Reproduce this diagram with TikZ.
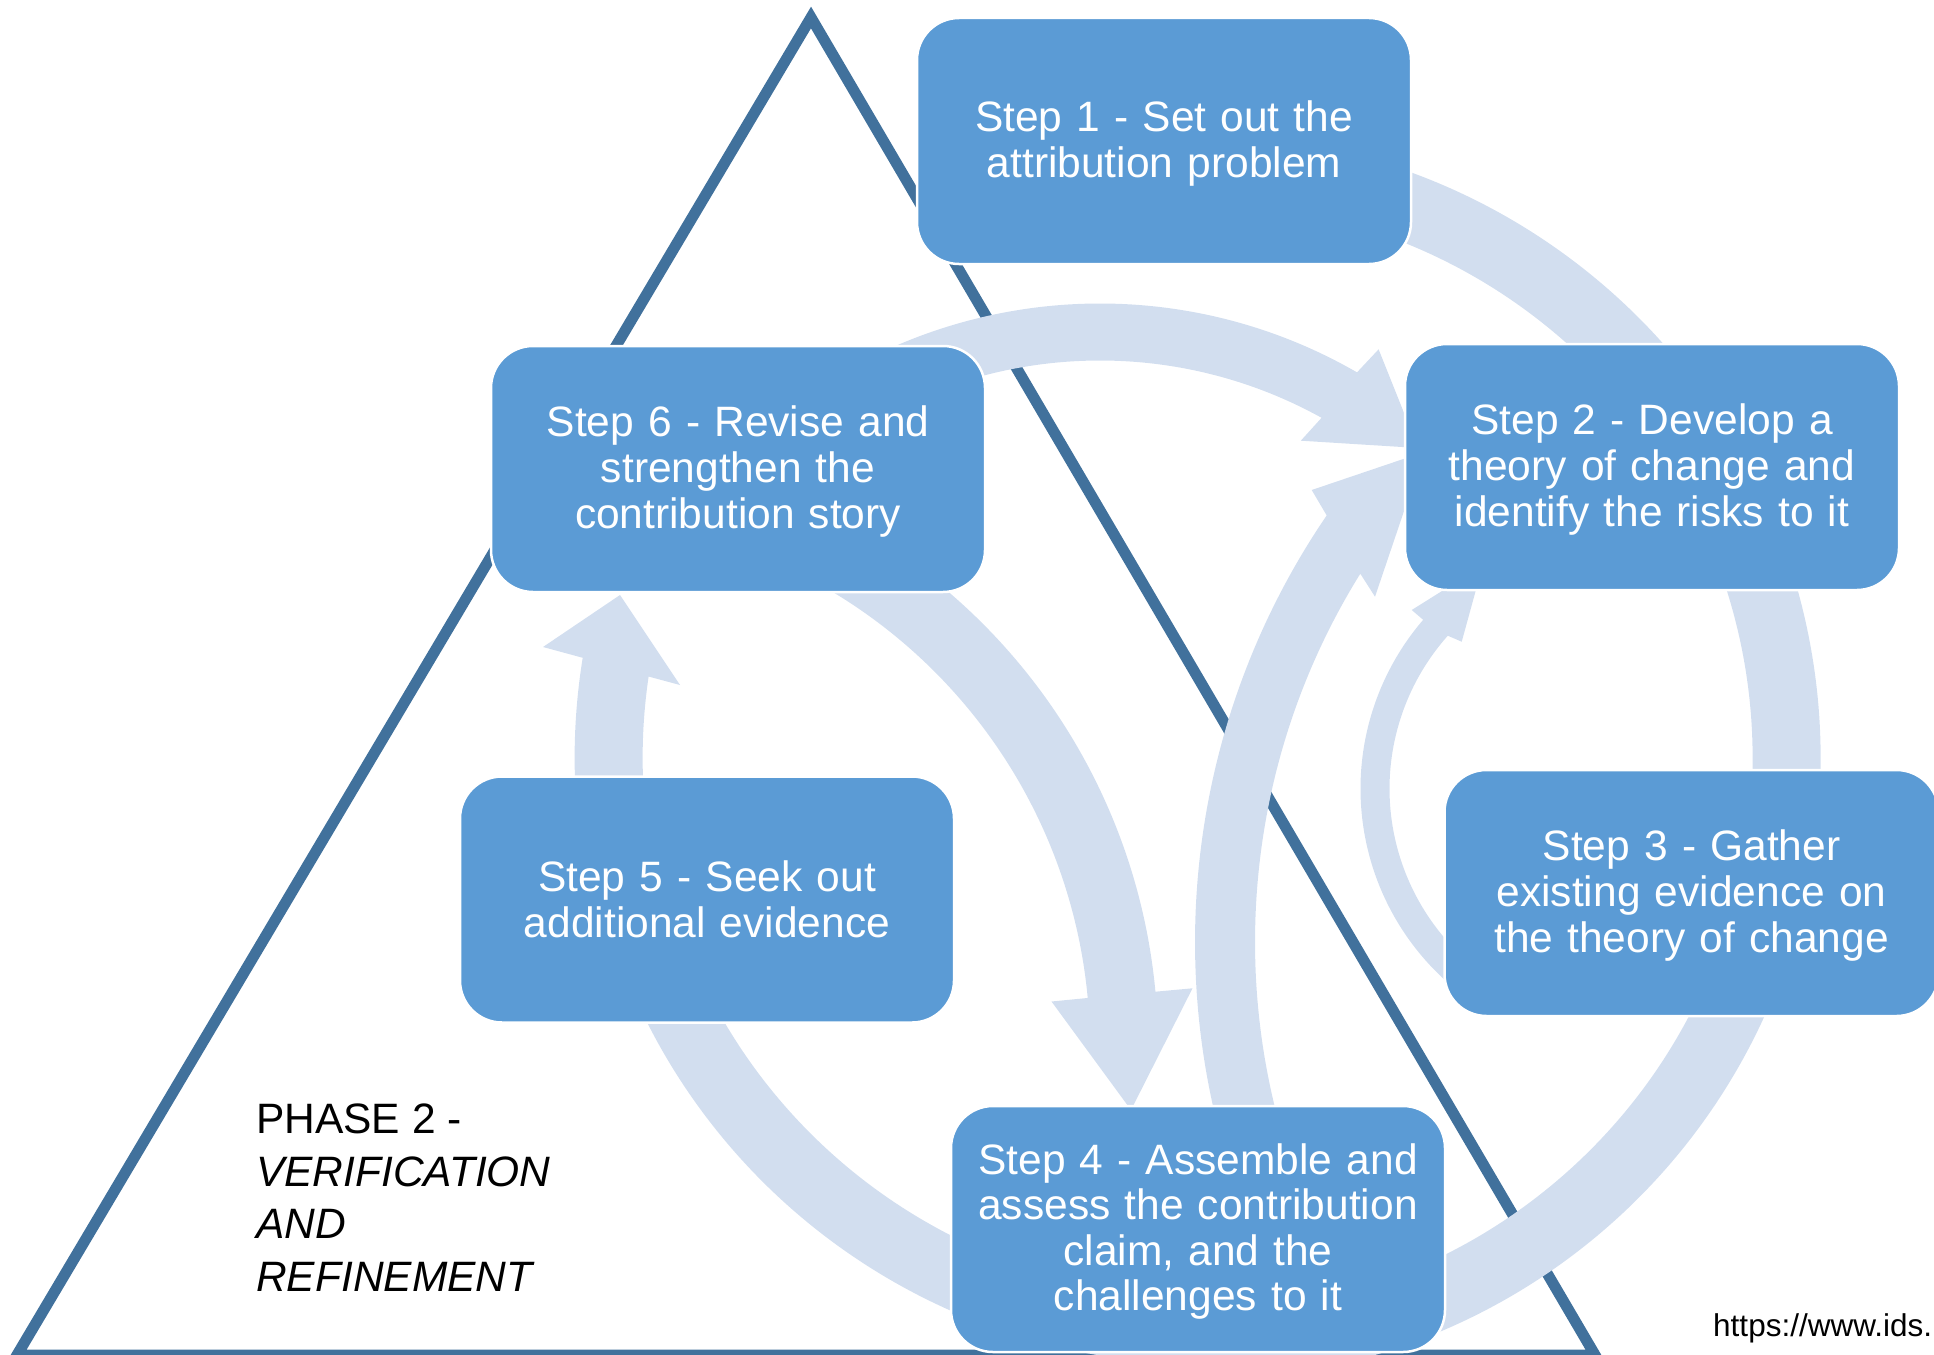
\documentclass[tikz,border=0pt]{standalone}
\usepackage{fontspec}
\setmainfont{Liberation Sans}
\usetikzlibrary{calc}
\definecolor{boxblue}{RGB}{91,155,213}
\definecolor{triblue}{RGB}{65,113,156}
\definecolor{flowblue}{RGB}{210,222,239}
\begin{document}
\begin{tikzpicture}[x=1pt,y=-1pt,
  stepbox/.style={rectangle, rounded corners=42pt, fill=boxblue, draw=white,
    line width=2.5pt, minimum width=494pt, minimum height=246pt, inner sep=0pt},
  steptext/.style={text width=480pt, inner sep=0pt, align=center, text=white,
    font=\fontsize{42.5}{45.6}\selectfont},
  flow/.style={fill=flowblue},
  frame/.style={draw=triblue, line width=11pt, line join=miter}
]
\useasboundingbox (0,0) rectangle (1934,1354);

% phase triangle
\draw[frame] (811,17.5) -- (1595,1355) -- (17,1355) -- cycle;

% centres of the curved block arrows
\coordinate (ringc) at (1197.6,757.8);
\coordinate (ringd) at (1203,741);
\coordinate (c62) at (1100,817.5);
\coordinate (c64) at (559,1047);
\coordinate (c42) at (1952,942);
\coordinate (c32) at (1619.5,788.7);

% main cycle 1 -> 2 -> 3 -> 4
\fill[flow] ($(ringc)+(-100:623)$) arc[start angle=-100,end angle=95,radius=623]
  -- ($(ringc)+(95:555)$) arc[start angle=95,end angle=-100,radius=555] -- cycle;
% 4 -> 5
\fill[flow] ($(ringd)+(85:623)$) arc[start angle=85,end angle=165,radius=623]
  -- ($(ringd)+(165:555)$) arc[start angle=165,end angle=85,radius=555] -- cycle;
% 5 -> 6
\fill[flow] ($(ringc)+(160:623)$) arc[start angle=160,end angle=189.24,radius=623]
  -- (543,647) -- (620,595) -- (680,685)
  -- ($(ringc)+(188.42:555)$) arc[start angle=188.42,end angle=160,radius=555] -- cycle;

% 6 -> 2
\fill[flow] ($(c62)+(-118:514)$) arc[start angle=-118,end angle=-60,radius=514]
  -- (1378.6,349.3) -- (1418,448) -- (1300.8,440.7)
  -- ($(c62)+(-61:457)$) arc[start angle=-61,end angle=-118,radius=457] -- cycle;

% 6 -> 4
\fill[flow] ($(c64)+(-62:599)$) arc[start angle=-62,end angle=-5.3,radius=599]
  -- (1192.5,988.3) -- (1131,1110) -- (1051.5,1001.5)
  -- ($(c64)+(-5.3:531)$) arc[start angle=-5.3,end angle=-62,radius=531] -- cycle;

% 4 -> 2
\fill[flow] ($(c42)+(160:757)$) arc[start angle=160,end angle=214.3,radius=757]
  -- (1311.7,490) -- (1424,452) -- (1375,596.7)
  -- ($(c42)+(211.9:697)$) arc[start angle=211.9,end angle=160,radius=697] -- cycle;

% 3 -> 2
\fill[flow] ($(c32)+(130:259)$) arc[start angle=130,end angle=220.7,radius=259]
  -- (1411.7,610) -- (1482.6,565.6) -- (1461.7,641.7)
  -- ($(c32)+(221.7:230)$) arc[start angle=221.7,end angle=130,radius=230] -- cycle;

% step boxes
\node[stepbox] (s1) at (1164,141) {};
\node[stepbox] (s2) at (1652,467) {};
\node[stepbox] (s3) at (1691.5,893) {};
\node[stepbox] (s4) at (1198,1229) {};
\node[stepbox] (s5) at (707,899.5) {};
\node[stepbox] (s6) at (738,469) {};

% step texts
\node[steptext] (t1) at ($(s1)+(0,2.5)$) {Step 1 - Set out the\\attribution problem};
\node[steptext] (t2) at ($(s2)+(0,2.5)$) {Step 2 - Develop a\\theory of change and\\identify the risks to it};
\node[steptext] (t3) at ($(s3)+(0,2.5)$) {Step 3 - Gather\\existing evidence on\\the theory of change};
\node[steptext] (t4) at ($(s4)+(0,2.5)$) {Step 4 - Assemble and\\assess the contribution\\claim, and the\\challenges to it};
\node[steptext] (t5) at ($(s5)+(0,0)$) {Step 5 - Seek out\\additional evidence};
\node[steptext] (t6) at ($(s6)+(0,2.5)$) {Step 6 - Revise and\\strengthen the\\contribution story};

% phase label and source
\node[anchor=north west, inner sep=0pt, align=left,
      font=\fontsize{42.5}{52.5}\selectfont] (phase) at (256,1104)
  {PHASE 2 -\\\textit{VERIFICATION}\\\textit{AND}\\\textit{REFINEMENT}};
\node[anchor=base west, inner sep=0pt, font=\fontsize{31.5}{36}\selectfont] (src)
  at (1713,1336) {https://www.ids.};
\end{tikzpicture}
\end{document}
